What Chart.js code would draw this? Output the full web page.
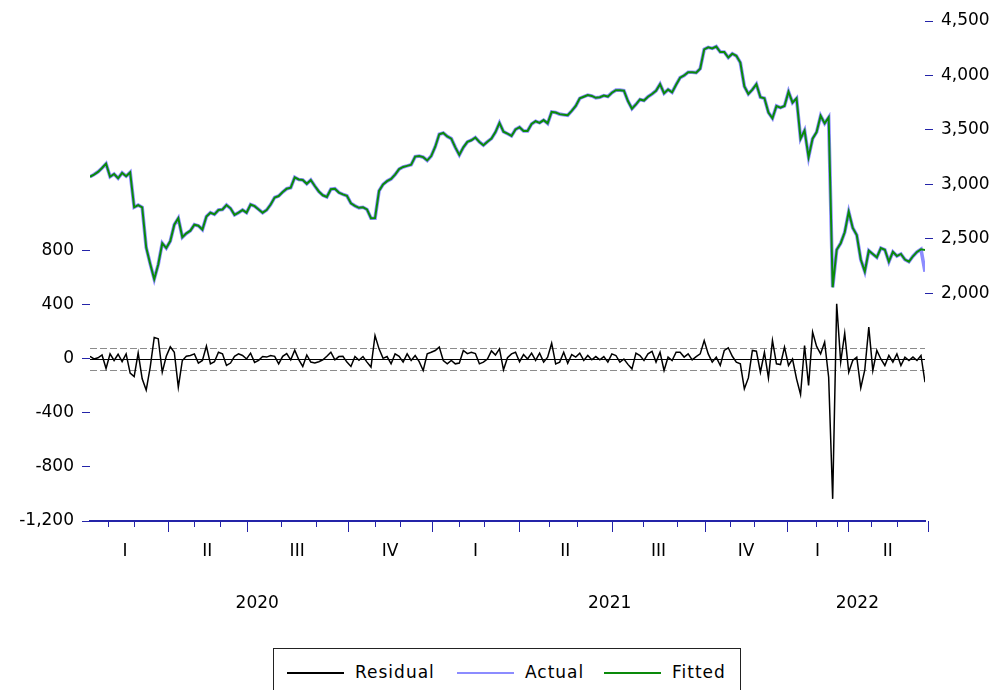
<!DOCTYPE html>
<html>
<head>
<meta charset="utf-8">
<title>Residual / Actual / Fitted</title>
<script src="https://cdn.jsdelivr.net/npm/chart.js@4.4.0/dist/chart.umd.min.js"></script>
<style>
  body { margin: 0; background: #fff; width: 1003px; height: 690px; overflow: hidden; position: relative; }
  #chartBox { position: absolute; left: 0; top: 0; width: 1003px; height: 640px; }
  #legend { position: absolute; left: 273px; top: 648px; width: 468px; height: 56px; border: 1.5px solid #222; box-sizing: border-box; font-family: 'DejaVu Sans', sans-serif; font-size: 17px; letter-spacing: 1px; color: #000; }
  #legend .swatch { position: absolute; top: 23px; width: 57px; height: 2px; }
  #legend .name { position: absolute; top: 12px; line-height: 22px; }
</style>
</head>
<body>
<div id="chartBox"><canvas id="rafChart" width="1003" height="640"></canvas></div>
<div id="legend">
  <div class="swatch" style="left:13px;background:#000"></div><div class="name" style="left:81px">Residual</div>
  <div class="swatch" style="left:183px;background:#8c8cff"></div><div class="name" style="left:251px">Actual</div>
  <div class="swatch" style="left:330px;background:#0a8a0a"></div><div class="name" style="left:398px">Fitted</div>
</div>
<script>
// series values, one per observation
const actual = [
  3070, 3090, 3115, 3150, 3190, 3070, 3095, 3056, 3105, 3075, 3110, 2790, 2810, 2790, 2420, 2270, 2130, 2265, 2460, 2415,
  2480, 2630, 2689, 2515, 2550, 2575, 2630, 2620, 2585, 2705, 2740, 2725, 2765, 2770, 2810, 2780, 2720, 2740, 2765, 2740,
  2815, 2800, 2770, 2740, 2765, 2815, 2880, 2893, 2930, 2960, 2970, 3065, 3045, 3040, 3005, 3040, 2985, 2935, 2900, 2885,
  2955, 2960, 2925, 2908, 2895, 2826, 2803, 2785, 2790, 2770, 2689, 2690, 2940, 3000, 3030, 3050, 3090, 3140, 3160, 3170,
  3180, 3255, 3260, 3250, 3220, 3260, 3346, 3460, 3472, 3440, 3420, 3340, 3270, 3340, 3390, 3405, 3430, 3390, 3360, 3392,
  3420, 3480, 3565, 3484, 3465, 3445, 3505, 3525, 3490, 3490, 3555, 3580, 3565, 3590, 3560, 3665, 3660, 3645, 3640, 3635,
  3675, 3720, 3790, 3805, 3820, 3812, 3795, 3800, 3815, 3806, 3842, 3865, 3865, 3860, 3765, 3695, 3735, 3780, 3770, 3805,
  3830, 3860, 3920, 3836, 3870, 3845, 3915, 3980, 4000, 4030, 4030, 4026, 4062, 4240, 4258, 4248, 4265, 4215, 4215, 4165,
  4200, 4180, 4118, 3900, 3830, 3870, 3920, 3800, 3790, 3660, 3607, 3720, 3705, 3720, 3851, 3750, 3790, 3420, 3495, 3250,
  3420, 3480, 3630, 3560, 3615, 2055, 2400, 2460, 2560, 2749, 2600, 2535, 2310, 2200, 2391, 2360, 2330, 2415, 2400, 2290,
  2380, 2342, 2361, 2310, 2290, 2340, 2380, 2404, 2199
];
const fitted = [
  3070, 3090, 3115, 3150, 3190, 3070, 3095, 3056, 3105, 3075, 3110, 2790, 2810, 2790, 2420, 2270, 2130, 2265, 2460, 2415,
  2480, 2630, 2689, 2515, 2550, 2575, 2630, 2620, 2585, 2705, 2740, 2725, 2765, 2770, 2810, 2780, 2720, 2740, 2765, 2740,
  2815, 2800, 2770, 2740, 2765, 2815, 2880, 2893, 2930, 2960, 2970, 3065, 3045, 3040, 3005, 3040, 2985, 2935, 2900, 2885,
  2955, 2960, 2925, 2908, 2895, 2826, 2803, 2785, 2790, 2770, 2689, 2690, 2940, 3000, 3030, 3050, 3090, 3140, 3160, 3170,
  3180, 3255, 3260, 3250, 3220, 3260, 3346, 3460, 3472, 3440, 3420, 3340, 3270, 3340, 3390, 3405, 3430, 3390, 3360, 3392,
  3420, 3480, 3565, 3484, 3465, 3445, 3505, 3525, 3490, 3490, 3555, 3580, 3565, 3590, 3560, 3665, 3660, 3645, 3640, 3635,
  3675, 3720, 3790, 3805, 3820, 3812, 3795, 3800, 3815, 3806, 3842, 3865, 3865, 3860, 3765, 3695, 3735, 3780, 3770, 3805,
  3830, 3860, 3920, 3836, 3870, 3845, 3915, 3980, 4000, 4030, 4030, 4026, 4062, 4240, 4258, 4248, 4265, 4215, 4215, 4165,
  4200, 4180, 4118, 3900, 3830, 3870, 3920, 3800, 3790, 3660, 3607, 3720, 3705, 3720, 3851, 3750, 3790, 3420, 3495, 3250,
  3420, 3480, 3630, 3560, 3615, 2055, 2400, 2460, 2560, 2749, 2600, 2535, 2310, 2200, 2391, 2360, 2330, 2415, 2400, 2290,
  2380, 2342, 2361, 2310, 2290, 2340, 2380, 2404, 2398
];
const residual = [
    20,    0,    9,   30,  -70,   38,  -11,   35,  -20,   38, -105, -130,   45, -147, -230,  -60,  160,  150,  -98,   20,
    90,   50, -209,  -11,   20,   26,   38,  -30,  -11,   95,  -36,  -20,   50,   38,  -48,  -30,   20,   38,   26,    0,
    43,  -25,  -10,   18,   14,   26,   20,  -36,   20,   40,   -6,   65,   -5,  -55,   30,  -23,  -30,  -20,   -6,   20,
    50,   -6,   18,   20,  -23,  -55,   18,  -10,   18,  -23,  -60,  174,   75,    5,   18,  -36,   38,   20,  -23,   38,
   -11,   26,  -20,  -85,   38,   50,   63,   88,  -11,  -36,  -11,  -36,  -30,   63,   40,   50,   40,  -36,  -23,    0,
    60,   30,   75,  -80,   10,   38,   50,  -20,   33,    0,   43,  -11,   43,  -23,   14,  117,  -36,  -23,   50,  -31,
    33,   14,   43,  -11,   26,   -6,   18,   -6,   18,  -23,   38,   26,  -23,    0,  -40,  -73,   43,   26,  -11,   38,
    57,  -23,   50,  -85,   14,  -11,   50,   50,   14,   38,   -6,   18,   38,  137,   38,  -23,   14,  -48,   63,   83,
    20,  -23,  -36, -221, -140,   63,   58,  -98,   50, -140,  137,  -36,  -41,   88,  -48,    0, -147, -263,  100, -196,
   199,   93,   38,  125, -135, -1036, 409,  -23,  191,  -98,  -11,   14, -214,  -80,  236,  -85,   63,    0,  -48,   26,
   -23,   38,  -48,   14,  -11,   14,  -11,   26, -172
];

// calendar marks, in observation numbers
const monthStarts = [4.4, 10.9, 25.8, 32.3, 47.6, 56.3, 71.0, 77.2, 91.9, 98.1, 114.4, 121.3, 137.8, 146.3, 159.4, 165.4, 180.9, 186.1, 194.5, 201.0];
const quarterStarts = [-2, 19.4, 39.0, 64.2, 85.3, 106.8, 130.0, 153.2, 173.6, 188.8, 208.7];
const quarterLabels = ['I', 'II', 'III', 'IV', 'I', 'II', 'III', 'IV', 'I', 'II'];
const yearStarts = [-2, 85.3, 173.6, 208.7];
const yearLabels = ['2020', '2021', '2022'];

// value axes
const residualTicks = [-1200, -800, -400, 0, 400, 800];
const levelTicks = [2000, 2500, 3000, 3500, 4000, 4500];
const residualBand = 78;

const axisBlue = '#2424a8';
const labelFont = { family: "'DejaVu Sans', sans-serif", size: 17 };

const midpoints = starts => starts.slice(0, -1).map((s, i) => (s + starts[i + 1]) / 2);
const quarterMids = midpoints(quarterStarts);
const yearMids = midpoints(yearStarts);

// keep the plot box fixed: no extra room for the end labels
const noPad = s => { s.paddingTop = 0; s.paddingBottom = 0; s.paddingLeft = 0; s.paddingRight = 0; };

// zero line, S.E. band and calendar tick marks
const residualGuides = {
    id: 'residualGuides',
    beforeDatasetsDraw(chart) {
        const { ctx, chartArea, scales } = chart;
        ctx.save();
        ctx.lineWidth = 1;
        ctx.strokeStyle = '#8c8c8c';
        ctx.setLineDash([7, 3]);
        [residualBand, -residualBand].forEach(v => {
            const py = Math.round(scales.y.getPixelForValue(v)) + 0.5;
            ctx.beginPath();
            ctx.moveTo(chartArea.left, py);
            ctx.lineTo(chartArea.right, py);
            ctx.stroke();
        });
        ctx.setLineDash([]);
        ctx.strokeStyle = '#000';
        const p0 = Math.round(scales.y.getPixelForValue(0)) + 0.5;
        ctx.beginPath();
        ctx.moveTo(chartArea.left, p0);
        ctx.lineTo(chartArea.right, p0);
        ctx.stroke();
        ctx.restore();
    },
    afterDraw(chart) {
        const { ctx, chartArea, scales } = chart;
        const base = chartArea.bottom;
        ctx.save();
        ctx.strokeStyle = axisBlue;
        ctx.lineWidth = 1;
        const mark = (v, len) => {
            const px = Math.round(scales.x.getPixelForValue(v)) + 0.5;
            if (px < chartArea.left - 1 || px > chartArea.right + 4) return;
            ctx.beginPath();
            ctx.moveTo(px, base);
            ctx.lineTo(px, base + len);
            ctx.stroke();
        };
        monthStarts.forEach(v => mark(v, 6));
        quarterStarts.forEach(v => mark(v, 11));
        ctx.restore();
    }
};

new Chart(document.getElementById('rafChart'), {
    type: 'line',
    data: {
        labels: actual.map((_, i) => i),
        datasets: [
            { label: 'Residual', data: residual, yAxisID: 'y', borderColor: '#000', borderWidth: 1.5 },
            { label: 'Fitted', data: fitted, yAxisID: 'y1', borderColor: '#0a8a0a', borderWidth: 2 },
            { label: 'Actual', data: actual, yAxisID: 'y1', borderColor: '#8c8cff', borderWidth: 3.6 }
        ]
    },
    options: {
        responsive: false,
        animation: false,
        devicePixelRatio: 1,
        layout: { padding: { top: 10, bottom: 19, left: 0, right: 0 } },
        elements: { point: { radius: 0 }, line: { tension: 0 } },
        plugins: { legend: { display: false }, tooltip: { enabled: false } },
        scales: {
            x: {
                type: 'linear', position: 'bottom', weight: 0,
                min: 0, max: actual.length - 1,
                afterBuildTicks: s => { s.ticks = quarterMids.map(v => ({ value: v })); },
                afterFit: s => { s.height = 50; noPad(s); },
                ticks: { autoSkip: false, maxRotation: 0, padding: 20, color: '#000', font: labelFont,
                         callback: (v, i) => quarterLabels[i] },
                grid: { display: false, drawTicks: false },
                border: { display: true, color: axisBlue, width: 2 }
            },
            x2: {
                type: 'linear', position: 'bottom', weight: 1,
                min: 0, max: actual.length - 1,
                afterBuildTicks: s => { s.ticks = yearMids.map(v => ({ value: v })); },
                afterFit: s => { s.height = 50; noPad(s); },
                ticks: { autoSkip: false, maxRotation: 0, padding: 22, color: '#000', font: labelFont,
                         callback: (v, i) => yearLabels[i] },
                grid: { display: false, drawTicks: false },
                border: { display: false }
            },
            y: {
                position: 'left', min: -1200, max: 2585,
                afterBuildTicks: s => { s.ticks = residualTicks.map(v => ({ value: v })); },
                afterFit: s => { s.width = 90; noPad(s); },
                ticks: { padding: 8, color: '#000', font: labelFont, callback: v => v.toLocaleString('en-US') },
                grid: { drawOnChartArea: false, drawTicks: true, tickLength: 8, tickColor: axisBlue },
                border: { display: false }
            },
            y1: {
                position: 'right', min: -90.5, max: 4601,
                afterBuildTicks: s => { s.ticks = levelTicks.map(v => ({ value: v })); },
                afterFit: s => { s.width = 78; noPad(s); },
                ticks: { padding: 8, color: '#000', font: labelFont, callback: v => v.toLocaleString('en-US') },
                grid: { drawOnChartArea: false, drawTicks: true, tickLength: 8, tickColor: axisBlue },
                border: { display: false }
            }
        }
    },
    plugins: [residualGuides]
});
</script>
</body>
</html>
